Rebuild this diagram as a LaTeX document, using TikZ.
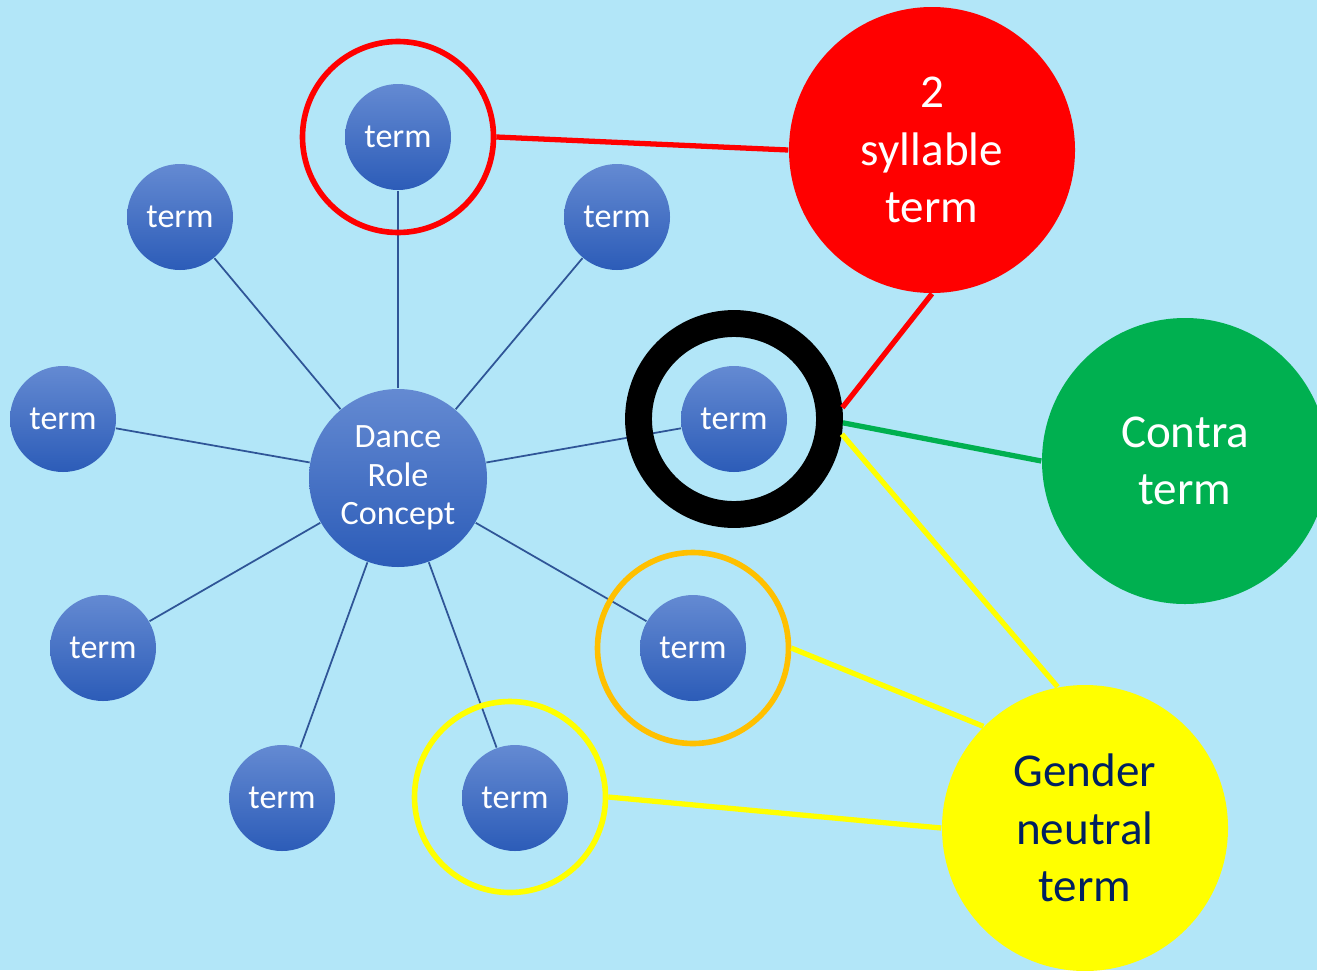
\documentclass[tikz,border=0pt]{standalone}
\usepackage{fontspec}
\setmainfont{Carlito}
\usepackage{tikz}

\definecolor{sky}{RGB}{178,230,248}
\definecolor{balltop}{RGB}{100,138,210}
\definecolor{ballbot}{RGB}{44,92,184}
\definecolor{spoke}{RGB}{47,85,151}
\definecolor{pred}{RGB}{255,0,0}
\definecolor{pgreen}{RGB}{0,176,80}
\definecolor{pyellow}{RGB}{255,255,0}
\definecolor{porange}{RGB}{255,192,0}
\definecolor{navy}{RGB}{0,32,96}

\begin{document}
\begin{tikzpicture}

\tikzset{ball/.style = {shape=circle,inner sep=0pt,minimum size=1.06cm,top color=balltop,bottom color=ballbot,text=white,font=\fontsize{9.7}{10.9}\selectfont,align=center}}
\tikzset{big/.style = {shape=circle,inner sep=0pt,minimum size=2.86cm,font=\fontsize{13.4}{16.4}\selectfont,align=center}}
\tikzset{ring/.style = {shape=circle,draw,line width=1.6pt,minimum size=1.91cm,inner sep=0pt}}
\tikzset{link/.style = {line width=1.5pt}}
\tikzset{edge/.style = {draw=spoke,line width=0.5pt}}

% background
\fill[sky] (0,0) rectangle (13.17,-9.70);
\clip (0,0) rectangle (13.17,-9.70);
\useasboundingbox (0,0) rectangle (13.17,-9.70);

% vertices
\node[ball,minimum size=1.78cm] (c) at (3.98,-4.78) {Dance\\Role\\Concept};
\node[ball] (t1) at (3.98,-1.37) {term};
\node[ball] (t2) at (1.80,-2.17) {term};
\node[ball] (t3) at (6.17,-2.17) {term};
\node[ball] (t4) at (0.63,-4.19) {term};
\node[ball] (t5) at (7.34,-4.19) {term};
\node[ball] (t6) at (1.03,-6.48) {term};
\node[ball] (t7) at (6.93,-6.48) {term};
\node[ball] (t8) at (2.82,-7.98) {term};
\node[ball] (t9) at (5.15,-7.98) {term};

% edges
\foreach \t in {t1,t2,t3,t4,t5,t6,t7,t8,t9}
  \draw[edge] (c) -- (\t);

% rings
\node[ring,draw=pred] (r1) at (3.98,-1.37) {};
\node[ring,draw=black,line width=7.65pt] (r5) at (7.34,-4.19) {};
\node[ring,draw=porange] (r7) at (6.93,-6.48) {};
\node[ring,draw=pyellow] (r9) at (5.10,-7.97) {};

% labels
\node[big,fill=pred,text=white] (syll) at (9.32,-1.50) {2\\syllable\\term};
\node[big,fill=pgreen,text=white] (contra) at (11.85,-4.61) {Contra\\term};
\node[big,fill=pyellow,text=navy] (gender) at (10.85,-8.28) {Gender\\neutral\\term};

% arcs
\draw[link,pred] (r1.east) -- (syll.west);
\draw[link,pred] (syll.south) -- (r5.6);
\draw[link,pgreen] (r5.-2) -- (contra.west);
\draw[link,pyellow] (r5.-8) -- (gender.101);
\draw[link,pyellow] (r7.east) -- (gender.135);
\draw[link,pyellow] (r9.east) -- (gender.west);

\end{tikzpicture}
\end{document}
